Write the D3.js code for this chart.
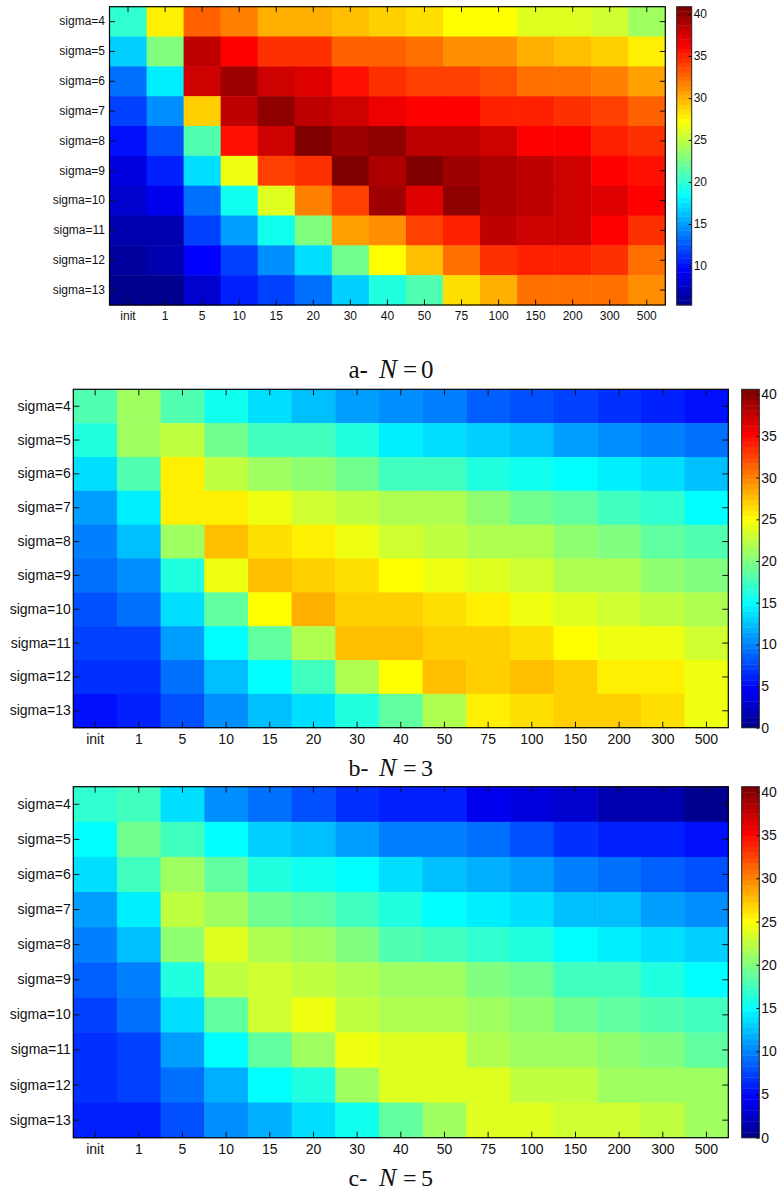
<!DOCTYPE html>
<html><head><meta charset="utf-8">
<script src="https://cdn.jsdelivr.net/npm/d3@7"></script>
<style>body{margin:0;background:#fff} svg{display:block}</style>
</head><body><svg id="chart" width="784" height="1196"></svg>
<script>
// ---------------- DATA ----------------
const xLabels = ["init","1","5","10","15","20","30","40","50","75","100","150","200","300","500"];
const yLabels = ["sigma=4","sigma=5","sigma=6","sigma=7","sigma=8","sigma=9","sigma=10","sigma=11","sigma=12","sigma=13"];

// N = 0
const valuesN0 = [
  [19.9, 27.6, 33.1, 31.6, 30.3, 29.8, 29.5, 29.2, 28.4, 27.0, 27.0, 25.9, 25.9, 25.6, 24.2],
  [16.5, 23.1, 38.4, 36.4, 34.6, 34.3, 33.0, 32.7, 32.1, 31.3, 30.9, 29.9, 29.5, 28.8, 28.0],
  [13.2, 17.8, 37.7, 39.4, 37.6, 37.1, 35.7, 34.6, 34.2, 33.7, 33.2, 32.4, 32.0, 31.6, 30.5],
  [11.6, 14.7, 29.2, 38.2, 40.2, 38.6, 38.0, 36.9, 36.4, 35.9, 35.3, 34.8, 34.3, 33.7, 32.7],
  [9.8, 12.5, 21.4, 35.7, 37.7, 40.87, 39.4, 39.9, 38.6, 38.4, 37.8, 36.4, 35.9, 35.3, 34.6],
  [8.6, 10.9, 17.1, 26.7, 33.9, 34.6, 40.8, 39.0, 40.4, 39.4, 38.9, 38.2, 37.7, 36.0, 35.5],
  [7.6, 8.9, 13.2, 19.2, 25.9, 31.6, 33.7, 39.4, 37.1, 40.2, 39.2, 38.6, 38.0, 37.1, 35.9],
  [6.5, 6.8, 11.6, 15.0, 18.7, 23.1, 30.5, 31.4, 33.7, 35.3, 38.6, 37.8, 37.8, 36.1, 34.3],
  [6.2, 6.7, 9.7, 12.0, 14.7, 17.1, 22.1, 27.0, 29.5, 32.0, 34.6, 35.1, 35.2, 34.5, 32.3],
  [5.36, 5.4, 7.9, 10.5, 12.0, 13.6, 16.5, 19.4, 21.4, 28.3, 29.8, 32.0, 32.0, 32.0, 31.3]
];
// N = 3
const valuesN3 = [
  [18.3, 21.2, 18.3, 15.8, 13.8, 12.6, 11.0, 10.5, 9.9, 8.6, 7.8, 7.4, 6.7, 6.3, 5.7],
  [16.0, 21.2, 22.4, 19.5, 17.7, 17.3, 16.0, 14.0, 13.6, 13.0, 12.6, 11.0, 10.2, 9.9, 9.1],
  [13.4, 17.9, 25.4, 22.8, 21.2, 20.7, 19.2, 17.7, 17.3, 16.4, 15.8, 14.6, 14.0, 13.4, 12.6],
  [11.4, 14.4, 25.4, 25.4, 24.4, 23.2, 22.8, 22.0, 21.6, 20.3, 19.4, 18.5, 17.7, 16.9, 15.2],
  [9.9, 12.1, 21.2, 27.4, 26.4, 25.4, 24.5, 23.2, 22.8, 22.0, 21.6, 20.3, 19.9, 19.0, 18.3],
  [8.9, 10.2, 16.4, 24.7, 27.4, 26.8, 26.4, 24.9, 24.2, 23.8, 23.2, 21.8, 21.8, 20.3, 19.9],
  [7.8, 8.9, 13.4, 19.0, 24.9, 28.0, 27.0, 27.2, 26.6, 25.5, 24.7, 24.0, 23.2, 22.8, 21.8],
  [7.1, 7.4, 11.4, 15.2, 18.5, 22.0, 27.6, 27.4, 27.2, 27.2, 26.4, 25.3, 24.5, 24.2, 23.2],
  [6.9, 6.9, 9.5, 12.1, 14.6, 17.3, 21.8, 25.3, 27.6, 27.0, 27.4, 27.0, 26.0, 25.6, 24.4],
  [5.5, 6.1, 7.8, 10.2, 12.1, 13.4, 16.4, 18.5, 21.8, 26.0, 26.2, 26.8, 26.8, 26.4, 24.7]
];
// N = 5
const valuesN5 = [
  [16.8, 17.2, 13.8, 10.2, 9.1, 7.8, 6.7, 6.0, 5.8, 4.1, 3.7, 3.1, 1.7, 1.3, 0.5],
  [15.2, 19.4, 17.7, 15.0, 13.2, 12.1, 10.9, 10.0, 9.9, 9.1, 8.2, 6.7, 5.9, 5.9, 5.1],
  [13.4, 17.3, 21.2, 18.5, 16.4, 15.8, 14.6, 13.6, 12.6, 11.9, 11.0, 9.7, 9.1, 8.4, 7.8],
  [10.8, 14.4, 22.4, 21.0, 19.4, 18.5, 17.3, 16.0, 15.2, 14.4, 13.8, 12.6, 12.6, 11.2, 10.6],
  [10.0, 12.1, 20.3, 23.8, 21.8, 21.4, 19.9, 18.0, 17.7, 16.8, 16.4, 15.2, 14.2, 13.8, 13.2],
  [8.7, 10.0, 16.4, 22.8, 23.2, 22.6, 22.0, 21.4, 21.0, 19.9, 19.4, 17.7, 17.7, 16.0, 15.2],
  [7.4, 8.9, 13.4, 18.5, 23.2, 24.4, 22.8, 22.0, 21.8, 21.4, 20.7, 19.4, 19.0, 18.3, 17.3],
  [6.9, 7.4, 11.4, 14.6, 18.5, 21.4, 24.4, 23.8, 23.8, 21.8, 21.4, 21.2, 20.5, 19.9, 19.0],
  [6.7, 7.1, 9.5, 11.9, 14.6, 16.2, 21.0, 23.6, 23.8, 23.8, 22.4, 22.4, 21.4, 21.4, 21.0],
  [5.8, 6.3, 8.2, 10.2, 11.9, 13.4, 15.8, 18.5, 21.0, 23.6, 23.6, 23.0, 23.0, 22.6, 21.2]
];

const colorLimitsN0 = [5.36, 40.87];
const colorLimitsN3N5 = [0, 40.6];
const colorbarTicksN0 = [10, 15, 20, 25, 30, 35, 40];
const colorbarTicksN3N5 = [0, 5, 10, 15, 20, 25, 30, 35, 40];
const titleLetters = ["a-", "b-", "c-"];
const titleNValues = ["0", "3", "5"];

// ---------------- MATLAB jet(64) colormap ----------------
function jetMap(m) {
  const n = Math.ceil(m / 4);
  const u = [];
  for (let i = 1; i <= n; i++) u.push(i / n);
  for (let i = 0; i < n - 1; i++) u.push(1);
  for (let i = n; i >= 1; i--) u.push(i / n);
  const off = Math.ceil(n / 2) - (m % 4 === 1 ? 1 : 0);
  const J = d3.range(m).map(() => [0, 0, 0]);
  u.forEach((val, i) => {
    const g = off + i + 1, r = g + n, b = g - n;
    if (r <= m) J[r - 1][0] = val;
    if (g <= m) J[g - 1][1] = val;
  });
  const bIdx = [];
  u.forEach((val, i) => { const b = off + i + 1 - n; if (b >= 1) bIdx.push(b); });
  bIdx.forEach((b, k) => { J[b - 1][2] = u[u.length - bIdx.length + k]; });
  return J.map(c => d3.rgb(c[0] * 255, c[1] * 255, c[2] * 255).formatHex());
}
const jet64 = jetMap(64);

// ---------------- LAYOUT ----------------
const panels = [
  { vals: valuesN0, clim: colorLimitsN0, cticks: colorbarTicksN0,
    x0: 109.5, x1: 665.3, y0: 6.7, y1: 305, cb0: 676.7, cb1: 691.7,
    fs: 12, tick: 5.5, xPad: 6, yPad: 4.5, titleY: 377.5, titleFs: 25 },
  { vals: valuesN3, clim: colorLimitsN3N5, cticks: colorbarTicksN3N5,
    x0: 73.3, x1: 728.3, y0: 389.3, y1: 727.7, cb0: 741.7, cb1: 759.3,
    fs: 14, tick: 6, xPad: 6.3, yPad: 2.5, titleY: 775.5, titleFs: 24 },
  { vals: valuesN5, clim: colorLimitsN3N5, cticks: colorbarTicksN3N5,
    x0: 73.3, x1: 728.3, y0: 786.7, y1: 1137.7, cb0: 741.7, cb1: 759.3,
    fs: 14, tick: 6, xPad: 6, yPad: 2.5, titleY: 1186, titleFs: 24 }
];

const svg = d3.select("#chart");
const sansFont = "'Liberation Sans', Arial, Helvetica, sans-serif";
const serifFont = "'Liberation Serif', 'Times New Roman', serif";

panels.forEach((p, pi) => {
  const x = d3.scaleBand().domain(xLabels).range([p.x0, p.x1]);
  const y = d3.scaleBand().domain(yLabels).range([p.y0, p.y1]);
  const color = d3.scaleQuantize().domain(p.clim).range(jet64);
  const g = svg.append("g");

  // cells
  const cells = [];
  p.vals.forEach((row, ri) => row.forEach((v, ci) => cells.push({ r: yLabels[ri], c: xLabels[ci], v })));
  g.selectAll("rect.cell").data(cells).join("rect")
    .attr("class", "cell")
    .attr("x", d => x(d.c)).attr("y", d => y(d.r))
    .attr("width", x.bandwidth() + 0.5).attr("height", y.bandwidth() + 0.5)
    .attr("fill", d => color(d.v));

  const styleAxis = sel => {
    sel.select(".domain").remove();
    sel.selectAll(".tick line").attr("stroke", "#111").attr("stroke-width", 1);
    sel.selectAll(".tick text").attr("fill", "#111").style("font-family", sansFont).style("font-size", p.fs + "px");
  };

  g.append("g").attr("transform", `translate(0,${p.y1})`)
    .call(d3.axisBottom(x).tickSizeInner(-p.tick).tickSizeOuter(0).tickPadding(p.xPad)).call(styleAxis);
  g.append("g").attr("transform", `translate(0,${p.y0})`)
    .call(d3.axisTop(x).tickSizeInner(-p.tick).tickSizeOuter(0).tickFormat("")).call(styleAxis);
  g.append("g").attr("transform", `translate(${p.x0},0)`)
    .call(d3.axisLeft(y).tickSizeInner(-p.tick).tickSizeOuter(0).tickPadding(p.yPad)).call(styleAxis);
  g.append("g").attr("transform", `translate(${p.x1},0)`)
    .call(d3.axisRight(y).tickSizeInner(-p.tick).tickSizeOuter(0).tickFormat("")).call(styleAxis);

  g.append("rect").attr("x", p.x0).attr("y", p.y0)
    .attr("width", p.x1 - p.x0).attr("height", p.y1 - p.y0)
    .attr("fill", "none").attr("stroke", "#000").attr("stroke-width", 1.2);

  // colorbar
  const cy = d3.scaleLinear().domain(p.clim).range([p.y1, p.y0]);
  const step = (p.clim[1] - p.clim[0]) / 64;
  const bands = d3.range(64).map(i => ({ lo: p.clim[0] + i * step, hi: p.clim[0] + (i + 1) * step, c: jet64[i] }));
  g.selectAll("rect.band").data(bands).join("rect")
    .attr("class", "band")
    .attr("x", p.cb0).attr("width", p.cb1 - p.cb0)
    .attr("y", d => cy(d.hi)).attr("height", d => cy(d.lo) - cy(d.hi) + 0.4)
    .attr("fill", d => d.c);
  g.append("g").attr("transform", `translate(${p.cb1},0)`)
    .call(d3.axisRight(cy).tickValues(p.cticks).tickSizeInner(-3).tickSizeOuter(0).tickPadding(2))
    .call(styleAxis);
  g.append("rect").attr("x", p.cb0).attr("y", p.y0)
    .attr("width", p.cb1 - p.cb0).attr("height", p.y1 - p.y0)
    .attr("fill", "none").attr("stroke", "#222").attr("stroke-width", 1);

  // title
  const t = svg.append("text").attr("y", p.titleY)
    .style("font-family", serifFont).style("font-size", p.titleFs + "px").attr("fill", "#111");
  t.append("tspan").attr("x", 348.5).text(titleLetters[pi]);
  t.append("tspan").attr("x", 379).style("font-style", "italic").style("font-size", (p.titleFs + 2) + "px").text("N");
  t.append("tspan").attr("x", 403).text("=");
  t.append("tspan").attr("x", 421).text(titleNValues[pi]);
});
</script>
</body></html>
